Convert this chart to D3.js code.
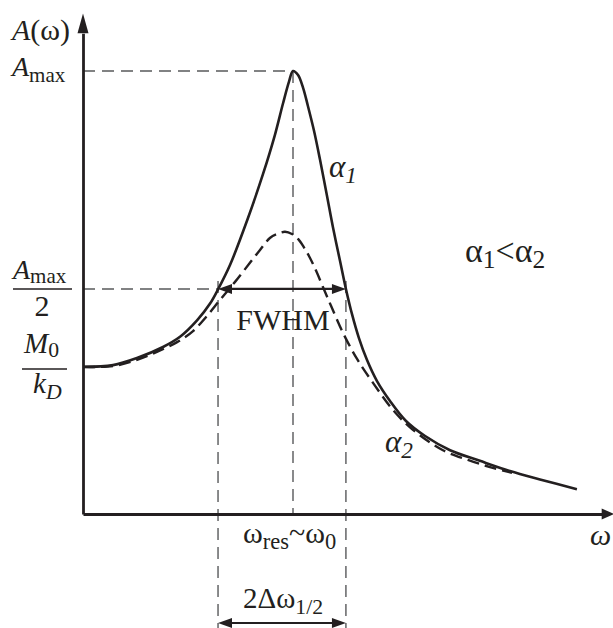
<!DOCTYPE html>
<html>
<head>
<meta charset="utf-8">
<script src="https://cdn.jsdelivr.net/npm/d3@7"></script>
<style>
  body { margin: 0; background: #fff; }
  svg { display: block; }
  text { font-family: "Liberation Serif", "Times New Roman", serif; fill: #231f20; }
</style>
</head>
<body>
<script>
// resonance curves (omega in units of omega0, A in units of Amax)
const omega1 = [0, 0.143, 0.257, 0.381, 0.462, 0.543, 0.605, 0.643, 0.700, 0.781, 0.857, 0.914, 0.952, 0.981, 1.0,
  1.024, 1.048, 1.071, 1.100, 1.129, 1.162, 1.190, 1.224, 1.252, 1.281, 1.314, 1.352, 1.400, 1.462, 1.538, 1.629,
  1.748, 1.890, 2.033, 2.176, 2.352];
const amp1 = [0.332, 0.336, 0.352, 0.377, 0.400, 0.437, 0.475, 0.507, 0.562, 0.662, 0.767, 0.856, 0.926, 0.976, 1.0,
  0.991, 0.962, 0.921, 0.865, 0.799, 0.718, 0.648, 0.571, 0.508, 0.451, 0.397, 0.348, 0.300, 0.255, 0.210, 0.176,
  0.144, 0.120, 0.097, 0.078, 0.056];
const omega2 = [0, 0.143, 0.257, 0.352, 0.448, 0.524, 0.590, 0.652, 0.724, 0.795, 0.843, 0.890, 0.929, 0.962, 0.995,
  1.024, 1.052, 1.081, 1.110, 1.143, 1.181, 1.238, 1.305, 1.381, 1.476, 1.571, 1.714, 1.833, 1.938, 2.043];
const amp2 = [0.332, 0.334, 0.348, 0.366, 0.388, 0.413, 0.447, 0.483, 0.524, 0.567, 0.596, 0.623, 0.633, 0.637, 0.632,
  0.621, 0.602, 0.578, 0.549, 0.512, 0.470, 0.409, 0.350, 0.296, 0.235, 0.190, 0.144, 0.122, 0.106, 0.093];

// marked levels
const peakOmega = 1.0, peakAmp = 1.0;
const halfAmp = 0.508;
const fwhmLo = 0.643, fwhmHi = 1.252;

const W = 613, H = 628;
const svg = d3.select("body").append("svg").attr("width", W).attr("height", H);

const x = d3.scaleLinear().domain([0, 1]).range([83, 293]);
const y = d3.scaleLinear().domain([0, 1]).range([514, 71]);

const ink = "#231f20", guide = "#58595b";

//guide lines
const g = svg.append("g").attr("fill", "none").attr("stroke", guide)
  .attr("stroke-width", 1.4).attr("stroke-dasharray", "12,7");
g.append("line").attr("x1", x(0)).attr("x2", x(peakOmega)).attr("y1", y(peakAmp)).attr("y2", y(peakAmp));
g.append("line").attr("x1", x(peakOmega)).attr("x2", x(peakOmega)).attr("y1", y(peakAmp)).attr("y2", y(0));
g.append("line").attr("x1", x(0)).attr("x2", x(fwhmLo)).attr("y1", y(halfAmp)).attr("y2", y(halfAmp));
[fwhmLo, fwhmHi].forEach(w =>
  g.append("line").attr("x1", x(w)).attr("x2", x(w)).attr("y1", y(halfAmp) - 8).attr("y2", H));

//axes
const axX = d3.axisBottom(x.copy().domain([0, 2.47]).range([x(0), x(2.47)])).tickValues([]).tickSizeOuter(0);
const axY = d3.axisLeft(y.copy().domain([0, 1.085]).range([y(0), y(1.085)])).tickValues([]).tickSizeOuter(0);
svg.append("g").attr("transform", `translate(0,${y(0)})`).call(axX)
  .select(".domain").attr("stroke", ink).attr("stroke-width", 2.8);
svg.append("g").attr("transform", `translate(${x(0)},0)`).call(axY)
  .select(".domain").attr("stroke", ink).attr("stroke-width", 2.8);
svg.append("path").attr("fill", ink)
  .attr("d", `M${x(2.53)},${y(0)} L${x(2.47)},${y(0) - 5.5} L${x(2.47)},${y(0) + 5.5} Z`);
svg.append("path").attr("fill", ink)
  .attr("d", `M${x(0)},${y(1.13)} L${x(0) - 5.5},${y(1.085)} L${x(0) + 5.5},${y(1.085)} Z`);

//curves
const line = d3.line().x(d => x(d[0])).y(d => y(d[1])).curve(d3.curveCatmullRom.alpha(0.5));
svg.append("path").datum(d3.zip(omega2, amp2)).attr("d", line)
  .attr("fill", "none").attr("stroke", ink).attr("stroke-width", 2.4).attr("stroke-dasharray", "12,6");
svg.append("path").datum(d3.zip(omega1, amp1)).attr("d", line)
  .attr("fill", "none").attr("stroke", ink).attr("stroke-width", 2.6);

// double arrows
const dblArrow = (a, b, yy) => {
  const x1 = x(a), x2 = x(b);
  svg.append("line").attr("x1", x1 + 6).attr("x2", x2 - 6).attr("y1", yy).attr("y2", yy)
    .attr("stroke", ink).attr("stroke-width", 2.2);
  svg.append("path").attr("fill", ink).attr("d", `M${x1},${yy} L${x1 + 14},${yy - 5} L${x1 + 14},${yy + 5} Z`);
  svg.append("path").attr("fill", ink).attr("d", `M${x2},${yy} L${x2 - 14},${yy - 5} L${x2 - 14},${yy + 5} Z`);
};
dblArrow(fwhmLo, fwhmHi, y(halfAmp));
dblArrow(fwhmLo, fwhmHi, 623);

//labels
const label = (px, py, parts, size = 30, anchor = "start", drop = 6) => {
  const t = svg.append("text").attr("x", px).attr("y", py).attr("font-size", size).attr("text-anchor", anchor);
  let shift = 0;
  parts.forEach(p => {
    const s = t.append("tspan").text(p.t);
    if (p.i) s.attr("font-style", "italic");
    const target = p.sub ? drop : 0;
    if (p.sub) s.attr("font-size", size * 0.75);
    if (target !== shift) { s.attr("dy", target - shift); shift = target; }
  });
  return t;
};

label(12, 40, [{ t: "A", i: true }, { t: "(ω)" }]);
label(12, y(peakAmp) + 5, [{ t: "A", i: true }, { t: "max", sub: true }], 28);
label(13, y(halfAmp) - 10, [{ t: "A", i: true }, { t: "max", sub: true }], 28, "start", 4);
svg.append("line").attr("x1", 13).attr("x2", 72).attr("y1", y(halfAmp)).attr("y2", y(halfAmp))
  .attr("stroke", ink).attr("stroke-width", 1.6);
label(42, 316, [{ t: "2" }], 30, "middle");
label(24, 353, [{ t: "M", i: true }, { t: "0", sub: true }], 29, "start", 4);
svg.append("line").attr("x1", 22).attr("x2", 67).attr("y1", 369).attr("y2", 369)
  .attr("stroke", ink).attr("stroke-width", 1.6);
label(33, 393, [{ t: "k", i: true }, { t: "D", i: true, sub: true }], 29);

label(x(peakOmega) - 10, 330, [{ t: "FWHM" }], 30, "middle");
label(243, 543, [{ t: "ω" }, { t: "res", sub: true }, { t: "~ω" }, { t: "0", sub: true }], 30);
label(590, 545, [{ t: "ω", i: true }], 30);
label(243, 608, [{ t: "2Δω" }, { t: "1/2", sub: true }], 29);

label(329, 177, [{ t: "α", i: true }, { t: "1", i: true, sub: true }], 31);
label(385, 452, [{ t: "α", i: true }, { t: "2", i: true, sub: true }], 31);
label(465, 262, [{ t: "α" }, { t: "1", sub: true }, { t: "<α" }, { t: "2", sub: true }], 34);
</script>
</body>
</html>
